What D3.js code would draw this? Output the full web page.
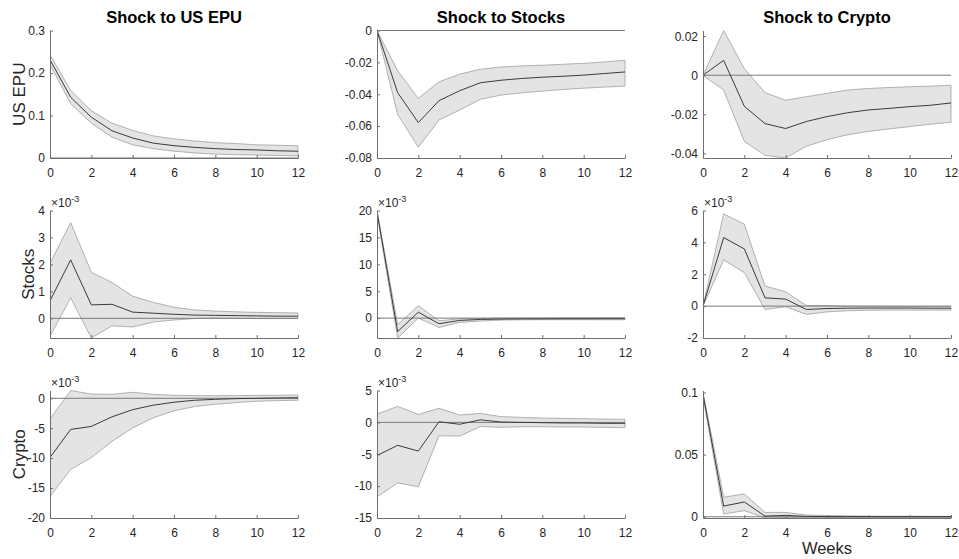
<!DOCTYPE html>
<html>
<head>
<meta charset="utf-8">
<script src="https://cdn.jsdelivr.net/npm/d3@7"></script>
<style>
  html, body { margin: 0; padding: 0; background: #fff; }
  svg { display: block; font-family: "Liberation Sans", Arial, Helvetica, sans-serif; }
</style>
</head>
<body>
<svg id="chart" width="959" height="559"></svg>
<script>
// Impulse responses over 12 weeks: median response with confidence band.
const weeks = [0, 1, 2, 3, 4, 5, 6, 7, 8, 9, 10, 11, 12];
const shockTitles = ["Shock to US EPU", "Shock to Stocks", "Shock to Crypto"];
const responseLabels = ["US EPU", "Stocks", "Crypto"];
const xTicks = [0, 2, 4, 6, 8, 10, 12];

// US EPU responses
const epuEpuMid = [0.231, 0.143, 0.096, 0.064, 0.047, 0.035, 0.029, 0.025, 0.022, 0.020, 0.019, 0.017, 0.016];
const epuEpuUp  = [0.243, 0.159, 0.111, 0.082, 0.065, 0.052, 0.045, 0.040, 0.036, 0.034, 0.031, 0.030, 0.029];
const epuEpuLo  = [0.220, 0.128, 0.082, 0.049, 0.031, 0.022, 0.016, 0.012, 0.009, 0.008, 0.007, 0.006, 0.005];

const epuStkMid = [0, -0.0390, -0.0578, -0.0440, -0.0378, -0.0328, -0.0312, -0.0301, -0.0293, -0.0287, -0.0280, -0.0270, -0.0260];
const epuStkUp  = [0, -0.0253, -0.0426, -0.0322, -0.0274, -0.0243, -0.0229, -0.0222, -0.0218, -0.0212, -0.0206, -0.0197, -0.0187];
const epuStkLo  = [0, -0.0526, -0.0733, -0.0561, -0.0499, -0.0432, -0.0405, -0.0391, -0.0380, -0.0370, -0.0362, -0.0355, -0.0349];

const epuCryMid = [0, 0.0076, -0.0159, -0.0248, -0.0273, -0.0237, -0.0212, -0.0192, -0.0178, -0.0170, -0.0161, -0.0154, -0.0142];
const epuCryUp  = [0, 0.0229, 0.0034, -0.0089, -0.0128, -0.0110, -0.0093, -0.0076, -0.0068, -0.0063, -0.0059, -0.0056, -0.0051];
const epuCryLo  = [0, -0.0076, -0.0339, -0.0410, -0.0424, -0.0364, -0.0330, -0.0305, -0.0288, -0.0275, -0.0263, -0.0251, -0.0241];

// Stocks responses (x10^-3)
const stkEpuMid = [0.65, 2.17, 0.50, 0.52, 0.23, 0.19, 0.15, 0.12, 0.11, 0.10, 0.09, 0.08, 0.08];
const stkEpuUp  = [2.04, 3.55, 1.71, 1.33, 0.82, 0.59, 0.41, 0.31, 0.27, 0.24, 0.22, 0.21, 0.20];
const stkEpuLo  = [-0.67, 0.76, -0.73, -0.28, -0.32, -0.14, -0.06, -0.01, 0.01, 0.00, -0.01, -0.01, -0.01];

const stkStkMid = [19.8, -2.5, 1.1, -1.05, -0.43, -0.25, -0.18, -0.15, -0.14, -0.13, -0.13, -0.12, -0.12];
const stkStkUp  = [20.0, -1.2, 2.3, -0.50, -0.12, -0.06, 0.00, 0.00, 0.02, 0.03, 0.04, 0.05, 0.06];
const stkStkLo  = [19.3, -3.7, 0.0, -1.73, -0.80, -0.55, -0.37, -0.32, -0.30, -0.30, -0.30, -0.31, -0.31];

const stkCryMid = [0, 4.30, 3.59, 0.52, 0.44, -0.21, -0.15, -0.13, -0.12, -0.12, -0.12, -0.13, -0.13];
const stkCryUp  = [0, 5.79, 5.14, 1.26, 0.90, 0.04, 0.04, 0.00, -0.01, -0.01, -0.02, -0.02, -0.02];
const stkCryLo  = [0, 2.90, 2.10, -0.21, -0.04, -0.52, -0.36, -0.29, -0.26, -0.25, -0.25, -0.25, -0.25];

// Crypto responses
const cryEpuMid = [-9.9, -5.2, -4.7, -3.1, -1.9, -1.15, -0.66, -0.33, -0.17, -0.06, 0.00, 0.05, 0.10];
const cryEpuUp  = [-3.45, 1.3, 0.70, 0.66, 1.00, 0.66, 0.50, 0.44, 0.44, 0.44, 0.50, 0.50, 0.55];
const cryEpuLo  = [-16.4, -11.9, -9.9, -7.2, -4.95, -3.25, -2.09, -1.38, -0.99, -0.72, -0.50, -0.39, -0.33];

const cryStkMid = [-5.2, -3.6, -4.5, 0.1, -0.3, 0.4, 0.05, 0.0, -0.05, -0.10, -0.10, -0.15, -0.15];
const cryStkUp  = [1.3, 2.5, 1.25, 2.2, 1.15, 1.4, 0.90, 0.78, 0.68, 0.63, 0.57, 0.52, 0.47];
const cryStkLo  = [-11.7, -9.5, -10.1, -2.1, -2.15, -0.65, -0.78, -0.68, -0.68, -0.73, -0.73, -0.78, -0.83];

const cryCryMid = [0.0986, 0.0086, 0.0119, 0.0005, 0.0011, 0.0003, 0.0001, 0.0001, 0.0001, 0.0001, 0.0001, 0.0001, 0.0001];
const cryCryUp  = [0.1003, 0.0157, 0.0184, 0.0035, 0.0035, 0.0014, 0.0010, 0.0007, 0.0005, 0.0004, 0.0004, 0.0003, 0.0003];
const cryCryLo  = [0.0968, 0.0022, 0.0049, -0.0010, -0.0005, -0.0005, -0.0006, -0.0006, -0.0006, -0.0006, -0.0006, -0.0006, -0.0006];

// y-axis limits, ticks and exponent label per panel (row-major)
const yDomains = [
  [0, 0.3], [-0.08, 0], [-0.0424, 0.0229],
  [-0.73, 4], [-3.7, 20], [-2, 6],
  [-20, 1.3], [-15, 5], [-0.001, 0.1016]
];
const yTicks = [
  [0, 0.1, 0.2, 0.3], [-0.08, -0.06, -0.04, -0.02, 0], [-0.04, -0.02, 0, 0.02],
  [0, 1, 2, 3, 4], [0, 5, 10, 15, 20], [-2, 0, 2, 4, 6],
  [-20, -15, -10, -5, 0], [-15, -10, -5, 0, 5], [0, 0.05, 0.1]
];
const yExponents = [null, null, null, -3, -3, -3, -3, -3, null];

const panelSeries = [
  [epuEpuMid, epuEpuUp, epuEpuLo], [epuStkMid, epuStkUp, epuStkLo], [epuCryMid, epuCryUp, epuCryLo],
  [stkEpuMid, stkEpuUp, stkEpuLo], [stkStkMid, stkStkUp, stkStkLo], [stkCryMid, stkCryUp, stkCryLo],
  [cryEpuMid, cryEpuUp, cryEpuLo], [cryStkMid, cryStkUp, cryStkLo], [cryCryMid, cryCryUp, cryCryLo]
];

// Layout
const colLeft = [50, 377, 703];
const colWidth = 248;
const rowTop = [30.5, 210.5, 390.5];
const rowHeight = 127.5;
const yLabelX = [25, 33.5, 24.5];

const svg = d3.select("#chart");
const fmt = v => String(+v.toPrecision(10));

panelSeries.forEach((series, i) => {
  const r = Math.floor(i / 3), c = i % 3;
  const [mid, up, lo] = series;
  const x = d3.scaleLinear().domain([0, 12]).range([colLeft[c], colLeft[c] + colWidth]);
  const y = d3.scaleLinear().domain(yDomains[i]).range([rowTop[r] + rowHeight, rowTop[r]]);
  const g = svg.append("g");

  const clipId = "clip" + i;
  svg.append("clipPath").attr("id", clipId).append("rect")
    .attr("x", x.range()[0]).attr("y", rowTop[r] - 0.5)
    .attr("width", colWidth + 1).attr("height", rowHeight + 1);

  const plot = g.append("g").attr("clip-path", `url(#${clipId})`);

  // confidence band
  const area = d3.area().x((d, k) => x(weeks[k])).y0((d, k) => y(lo[k])).y1((d, k) => y(up[k]));
  plot.append("path").datum(weeks).attr("d", area)
    .attr("fill", "#e4e4e4").attr("stroke", "#a0a0a0").attr("stroke-width", 0.8)
    .attr("stroke-linejoin", "round");

  // zero reference line
  plot.append("line")
    .attr("x1", x(0)).attr("x2", x(12)).attr("y1", y(0)).attr("y2", y(0))
    .attr("stroke", "#7a7a7a").attr("stroke-width", 1);

  // median response
  const line = d3.line().x((d, k) => x(weeks[k])).y((d, k) => y(mid[k]));
  plot.append("path").datum(weeks).attr("d", line)
    .attr("fill", "none").attr("stroke", "#3a3a3a").attr("stroke-width", 1)
    .attr("stroke-linejoin", "round");

  // axes (left and bottom only, ticks pointing inward)
  const xAxis = d3.axisBottom(x).tickValues(xTicks).tickSizeInner(-3).tickSizeOuter(0)
    .tickPadding(10).tickFormat(fmt);
  const yAxis = d3.axisLeft(y).tickValues(yTicks[i]).tickSizeInner(-3).tickSizeOuter(0)
    .tickPadding(8).tickFormat(fmt);

  const gx = g.append("g").attr("transform", `translate(0,${rowTop[r] + rowHeight})`).call(xAxis);
  const gy = g.append("g").attr("transform", `translate(${colLeft[c]},0)`).call(yAxis);
  [gx, gy].forEach(a => {
    a.select(".domain").attr("stroke", "#6e6e6e").attr("stroke-width", 1);
    a.selectAll(".tick line").attr("stroke", "#6e6e6e");
    a.selectAll(".tick text").attr("fill", "#262626").style("font-size", "12px")
      .style("font-family", '"Liberation Sans", Arial, sans-serif');
  });
  gy.selectAll(".tick text").attr("x", -5);

  // exponent label
  if (yExponents[i] !== null) {
    const t = g.append("text").attr("x", colLeft[c] + 1).attr("y", rowTop[r] - 4)
      .attr("fill", "#262626").style("font-size", "12px");
    t.append("tspan").text("\u00d710");
    t.append("tspan").attr("dy", -5).style("font-size", "9px").text(String(yExponents[i]));
  }

  // panel titles on the first row
  if (r === 0) {
    svg.append("text").attr("x", colLeft[c] + colWidth / 2).attr("y", 22.5)
      .attr("text-anchor", "middle").attr("fill", "#000")
      .style("font-size", "16.5px").style("font-weight", "bold")
      .text(shockTitles[c]);
  }

  // response labels on the first column
  if (c === 0) {
    svg.append("text")
      .attr("transform", `translate(${yLabelX[r]},${rowTop[r] + rowHeight / 2}) rotate(-90)`)
      .attr("text-anchor", "middle").attr("fill", "#262626")
      .style("font-size", "17px").text(responseLabels[r]);
  }
});

// x-axis label under the last panel
svg.append("text")
  .attr("x", colLeft[2] + colWidth / 2).attr("y", 554)
  .attr("text-anchor", "middle").attr("fill", "#262626")
  .style("font-size", "16.5px").text("Weeks");
</script>
</body>
</html>
